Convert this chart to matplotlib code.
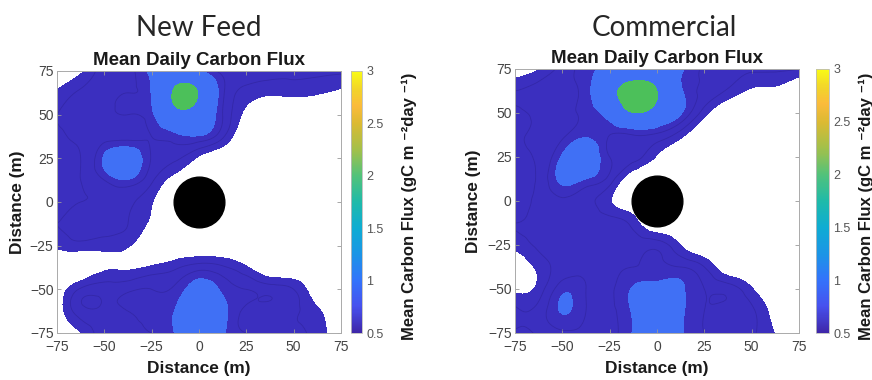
import numpy as np
import matplotlib
matplotlib.use("Agg")
import matplotlib.pyplot as plt
import matplotlib.tri as mtri
from matplotlib.colors import LinearSegmentedColormap, Normalize
from matplotlib.cm import ScalarMappable

# ---------------- data ----------------
nan = np.nan
x_m = [-75, -62.5, -50, -37.5, -25, -12.5, 0, 12.5, 25, 37.5, 50, 62.5, 75]
y_m = [75, 62.5, 50, 37.5, 25, 12.5, 0, -12.5, -25, -37.5, -50, -62.5, -75]  # rows top -> bottom

# Mean daily carbon flux (gC m-2 day-1); nan = no data (blank)
new_feed_flux = [
    [nan, 0.23, 0.70, 0.75, 1.10, 1.30, 1.05, 0.75, 0.70, 0.65, 0.60, 0.60, 0.60],
    [0.35, 0.60, 0.70, 0.80, 1.02, 1.90, 1.75, 0.85, 0.45, 0.35, 0.375, 0.33, 0.22],
    [0.55, 0.65, 0.70, 0.80, 0.95, 1.55, 1.45, 0.80, 0.20, nan, nan, nan, nan],
    [0.50, 0.60, 0.70, 0.71, 0.80, 0.92, 0.98, 0.60, nan, nan, nan, nan, nan],
    [0.50, 0.55, 1.05, 1.30, 0.78, 0.60, 0.23, nan, nan, nan, nan, nan, nan],
    [0.50, 0.55, 0.80, 0.98, 0.60, 0.15, nan, nan, nan, nan, nan, nan, nan],
    [0.50, 0.55, 0.60, 0.60, 0.32, nan, nan, nan, nan, nan, nan, nan, nan],
    [0.55, 0.60, 0.65, 0.55, 0.22, nan, nan, nan, nan, nan, nan, nan, nan],
    [0.35, 0.45, 0.40, 0.33, nan, nan, nan, nan, nan, nan, nan, nan, nan],
    [nan, nan, 0.24, 0.25, 0.35, 0.50, 0.70, 0.60, 0.34, nan, nan, nan, nan],
    [nan, 0.59, 0.70, 0.75, 0.80, 0.85, 1.15, 0.95, 0.80, 0.70, 0.55, 0.09, nan],
    [0.06, 0.70, 0.75, 0.80, 0.85, 1.02, 1.40, 1.10, 0.75, 0.70, 0.60, 0.35, nan],
    [nan, 0.28, 0.70, 0.75, 0.80, 1.02, 1.35, 1.05, 0.80, 0.70, 0.60, 0.45, nan],
]

commercial_flux = [
    [nan, 0.28, 0.65, 0.90, 1.15, 1.40, 1.30, 1.05, 0.75, 0.65, 0.60, 0.60, 0.55],
    [0.55, 0.65, 0.75, 0.90, 1.57, 2.05, 1.80, 1.05, 0.75, 0.50, 0.25, 0.22, nan],
    [0.50, 0.60, 0.70, 0.85, 1.20, 1.78, 1.50, 1.03, 0.41, nan, nan, nan, nan],
    [0.50, 0.60, 0.75, 0.95, 0.80, 0.80, 0.75, 0.40, nan, nan, nan, nan, nan],
    [0.50, 0.60, 1.05, 1.30, 0.80, 0.65, 0.26, nan, nan, nan, nan, nan, nan],
    [0.50, 0.60, 1.08, 1.00, 0.70, nan, nan, nan, nan, nan, nan, nan, nan],
    [0.50, 0.60, 0.75, 0.65, 0.33, nan, nan, nan, nan, nan, nan, nan, nan],
    [0.55, 0.60, 0.65, 0.70, 0.70, 0.44, nan, nan, nan, nan, nan, nan, nan],
    [0.40, 0.60, 0.65, 0.60, 0.75, 0.70, 0.70, 0.29, nan, nan, nan, nan, nan],
    [nan, 0.38, 0.65, 0.70, 0.75, 0.80, 0.85, 0.80, 0.55, 0.05, nan, nan, nan],
    [0.20, 0.40, 0.93, 0.80, 0.75, 1.03, 1.15, 1.05, 0.80, 0.70, 0.33, nan, nan],
    [0.60, 0.65, 1.02, 0.80, 0.75, 1.05, 1.40, 1.07, 0.80, 0.70, 0.60, 0.15, nan],
    [0.50, 0.60, 0.75, 0.75, 0.75, 1.03, 1.35, 1.05, 0.80, 0.70, 0.60, 0.28, nan],
]

panel_titles = ["New Feed", "Commercial"]
axis_ticks = [-75, -50, -25, 0, 25, 50, 75]
cbar_ticks = [0.5, 1, 1.5, 2, 2.5, 3]
cbar_ticklabels = ["0.5", "1", "1.5", "2", "2.5", "3"]
flux_levels = [0.3, 1.0, 1.8, 10.0]
clim = (0.5, 3.0)

# ---------------- style ----------------
parula = LinearSegmentedColormap.from_list("parula", [
    (0.00, "#3e26a8"), (0.10, "#4751ee"), (0.20, "#3373fb"), (0.30, "#1b95e6"),
    (0.40, "#0eacd3"), (0.50, "#1fbaa9"), (0.60, "#52c27a"), (0.70, "#a2c04a"),
    (0.80, "#dbba33"), (0.87, "#fbbb3b"), (0.93, "#f2d42a"), (1.00, "#f9fb15")])
fill_colors = ["#3b2fbf", "#4070f5", "#4cc05a"]
line_color = "#2a1e8c"

plt.rcParams["font.family"] = ["Liberation Sans", "DejaVu Sans"]

fig = plt.figure(figsize=(8.72, 3.80), dpi=100)
W, H = 872.0, 380.0

def fr(x0, y0, x1, y1):
    return [x0 / W, 1 - y1 / H, (x1 - x0) / W, (y1 - y0) / H]

axes_px = [(57, 71, 341, 333), (515, 69, 799, 333)]
cax_px = [(351, 71, 362, 333), (816, 69, 829, 333)]
title_xy = [(199, 28), (664, 28)]
cblabel_x = [409, 866]

# triangulation of the sampling grid
n = len(x_m)
X, Y = np.meshgrid(x_m, y_m[::-1])
idx = np.arange(n * n).reshape(n, n)
tris = []
for i in range(n - 1):
    for j in range(n - 1):
        a, b, c, d = idx[i, j], idx[i, j + 1], idx[i + 1, j], idx[i + 1, j + 1]
        tris += [[a, b, d], [a, d, c]]
tri = mtri.Triangulation(X.ravel(), Y.ravel(), np.array(tris))
refiner = mtri.UniformTriRefiner(tri)

for k, flux in enumerate([new_feed_flux, commercial_flux]):
    ax = fig.add_axes(fr(*axes_px[k]))
    Z = np.nan_to_num(np.array(flux, float)[::-1], nan=0.0)
    tri_f, z_f = refiner.refine_field(Z.ravel(), subdiv=4)
    ax.tricontourf(tri_f, z_f, levels=flux_levels, colors=fill_colors)
    ax.tricontour(tri_f, z_f, levels=[0.55, 0.8], colors=line_color,
                  linewidths=0.6, alpha=0.45)
    ax.plot(0, 0, "o", ms=36.5, mfc="k", mec="k", zorder=5)
    ax.set_xlim(-75, 75)
    ax.set_ylim(-75, 75)
    ax.set_xticks(axis_ticks)
    ax.set_yticks(axis_ticks)
    ax.tick_params(direction="in", length=3, width=0.6, top=True, right=True,
                   colors="#999999", labelcolor="#444444", labelsize=10)
    ax.tick_params(axis="x", pad=5)
    ax.tick_params(axis="y", pad=2.5)
    for s in ax.spines.values():
        s.set_color("#aaaaaa")
        s.set_linewidth(0.7)
    ax.set_title("Mean Daily Carbon Flux", fontsize=13.5, fontweight="bold",
                 color="#1a1a1a", pad=4.3)
    ax.set_xlabel("Distance (m)", fontsize=12.4, fontweight="bold", color="#1a1a1a")
    ax.set_ylabel("Distance (m)", fontsize=12.4, fontweight="bold", color="#1a1a1a")
    ax.xaxis.set_label_coords(0.5, -0.105)
    ax.yaxis.set_label_coords(-0.113 if k == 0 else -0.12, 0.5)

    cax = fig.add_axes(fr(*cax_px[k]))
    sm = ScalarMappable(norm=Normalize(*clim), cmap=parula)
    cb = fig.colorbar(sm, cax=cax, ticks=cbar_ticks)
    cb.ax.set_yticklabels(cbar_ticklabels)
    cb.ax.tick_params(length=0, labelsize=9, labelcolor="#555555", pad=3)
    cb.outline.set_edgecolor("#bbbbbb")
    cb.outline.set_linewidth(0.6)
    fig.text(cblabel_x[k] / W, 1 - 206 / H,
             "Mean Carbon Flux (gC m \u207b\u00b2day \u207b\u00b9)",
             rotation=90, ha="center", va="center", fontsize=12,
             fontweight="bold", color="#1a1a1a")

    fig.text(title_xy[k][0] / W, 1 - title_xy[k][1] / H, panel_titles[k],
             ha="center", va="center", fontsize=20, color="#262626",
             family=["Lato", "DejaVu Sans"])

fig.savefig("out.png", dpi=100)
